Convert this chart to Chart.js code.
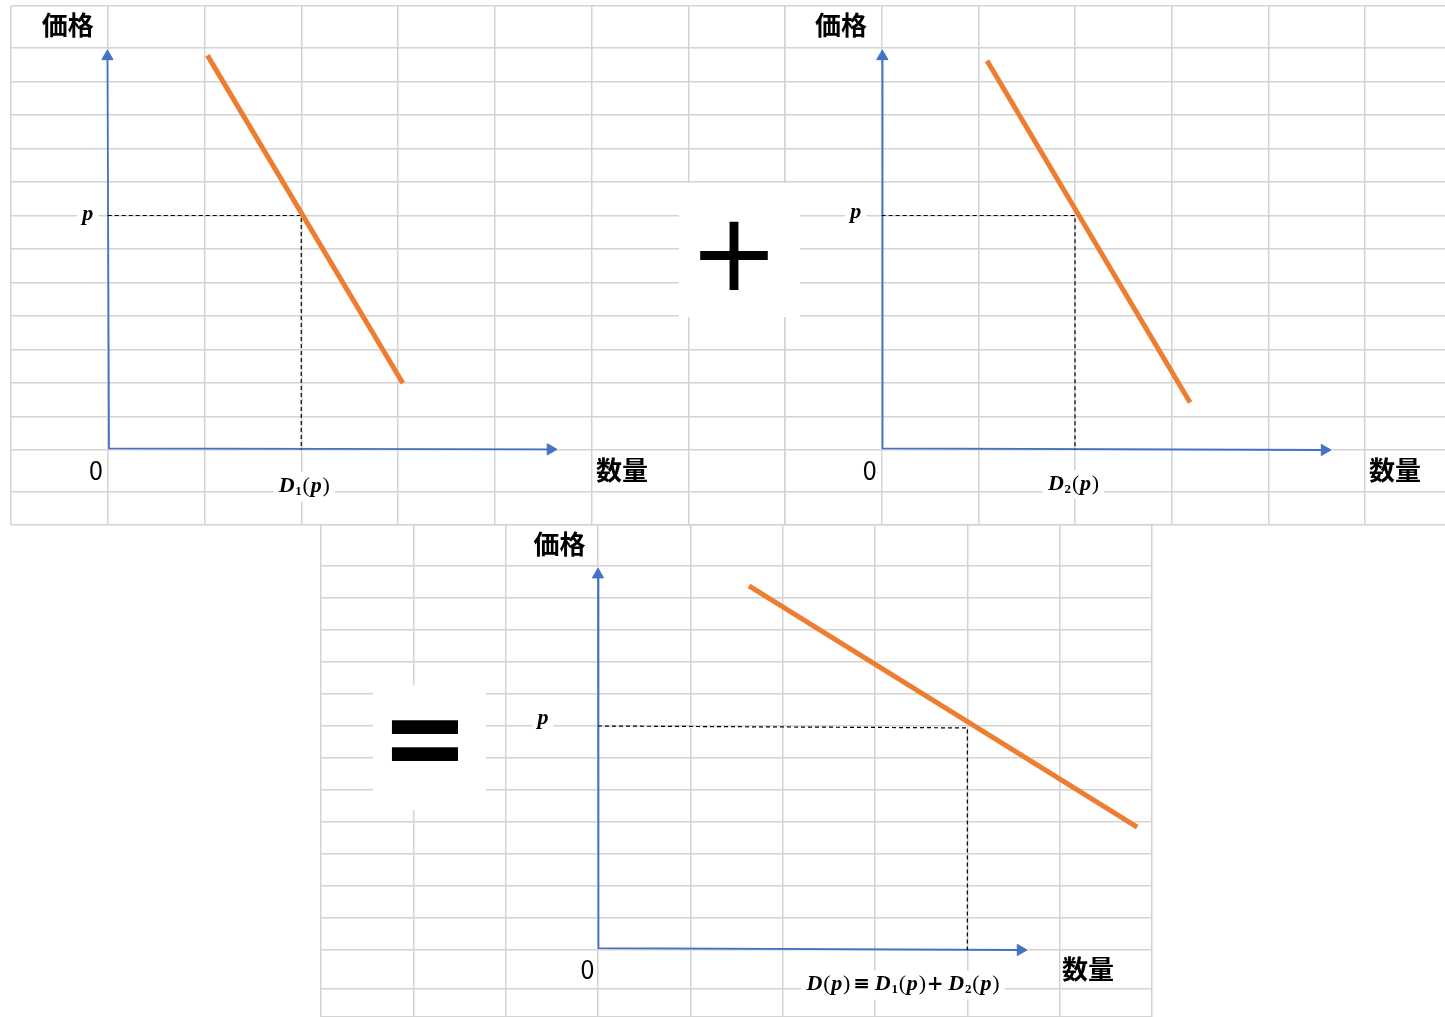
<!DOCTYPE html>
<html lang="ja">
<head>
<meta charset="utf-8">
<title>需要の水平和</title>
<script src="https://cdn.jsdelivr.net/npm/chart.js@4.4.1/dist/chart.umd.min.js"></script>
<style>
  html, body { margin: 0; padding: 0; background: #fff; overflow: hidden; }
  body { width: 1445px; height: 1017px; position: relative; }
  canvas { position: absolute; }
  .sign { position: absolute; background: #fff; z-index: 2; }
  .sign span { position: absolute; transform: translate(-50%, -50%); line-height: 1; font-family: "DejaVu Sans"; color: #000; }
</style>
</head>
<body>
<canvas id="chartD1" width="778" height="523" style="left:9px;top:4px"></canvas>
<canvas id="chartD2" width="664" height="523" style="left:783px;top:4px"></canvas>
<canvas id="chartD" width="835" height="496" style="left:319px;top:523px"></canvas>
<div class="sign" style="left:679px;top:183px;width:121px;height:134px"><span style="left:55px;top:70px;font-size:108px">+</span></div>
<div class="sign" style="left:373px;top:685px;width:113px;height:125px"><span style="left:52px;top:52px;font-size:96px;font-weight:bold;transform:translate(-50%,-50%) scale(1.1,1.25)">=</span></div>
<script>
// values are in spreadsheet cells: 1 = one column (quantity) / one row (price)
const priceP = 7;
const d1AtP = 2;
const d2AtP = 2;
const dAtP = 4;

// demand lines (two ends each)
const d1Qty = [1.03, 3.05];
const d1Price = [11.78, 1.99];
const d2Qty = [1.09, 3.19];
const d2Price = [11.62, 1.42];
const dQty = [1.635, 5.84];
const dPrice = [11.375, 3.84];

// axes: top arrow, origin, right arrow
const axis1Qty = [-0.003, 0.013, 4.576];
const axis1Price = [11.75, 0.05, 0.02];
const axis2Qty = [0.007, 0.009, 4.581];
const axis2Price = [11.75, 0.05, 0.0];
const axis3Qty = [0.0, 0.005, 4.576];
const axis3Price = [11.73, 0.06, 0.0];

// spreadsheet cell lines
const colsTopLeft = [-1, 0, 1, 2, 3, 4, 5, 6, 7];
const colsTopRight = [-1, 0, 1, 2, 3, 4, 5];
const rowsTop = [-2.239, -1.254, 0, 1, 2, 3, 4, 5, 6, 7, 8, 9, 10, 11, 12, 13.254];
const colsBottom = [-3, -2, -1, 0, 1, 2, 3, 4, 5, 6];
const rowsBottom = [-2.094, -1.219, 0, 1, 2, 3, 4, 5, 6, 7, 8, 9, 10, 11, 12, 13.281];

const ORANGE = "#ED7D31";
const BLUE = "#4472C4";

const textFonts = {
  kanji: 'bold 26px "Noto Sans CJK JP"',
  zero: '25px "Noto Sans CJK JP"',
  it: 'italic bold 22px "Liberation Serif"',
  up: '22px "Liberation Serif"',
  sub: 'bold 13px "Liberation Serif"',
  op: 'bold 20px "DejaVu Serif"',
};

function gridScale(min, max, lines) {
  return {
    type: "linear",
    min: min,
    max: max,
    afterBuildTicks: (scale) => {
      scale.ticks = lines.map((v) => ({ value: v }));
    },
    ticks: { display: false },
    grid: { color: "#d3d3d3", lineWidth: 1.5, drawTicks: false },
    border: { display: false },
  };
}

function points(q, p) {
  return q.map((v, i) => ({ x: v, y: p[i] }));
}

function labelPlugin(items) {
  return {
    id: "panelText",
    afterDraw(chart) {
      const ctx = chart.ctx;
      const xs = chart.scales.x;
      const ys = chart.scales.y;
      ctx.save();
      ctx.textBaseline = "alphabetic";
      ctx.textAlign = "left";
      items.forEach((item) => {
        const gap = item.runs.length > 1 ? 0.8 : 0;
        const widths = item.runs.map(([t, f]) => {
          ctx.font = textFonts[f];
          return ctx.measureText(t).width;
        });
        const total = widths.reduce((a, b) => a + b, 0) + gap * (item.runs.length - 1);
        const cx = xs.getPixelForValue(item.at[0]) + item.dx;
        const base = ys.getPixelForValue(item.at[1]) + item.dy;
        let left = cx - total / 2;
        if (item.box) {
          ctx.fillStyle = "#fff";
          ctx.fillRect(left - 5, base - 20, total + 10, 29);
        }
        ctx.fillStyle = "#000";
        item.runs.forEach(([t, f], i) => {
          ctx.font = textFonts[f];
          ctx.fillText(t, left, base + (f === "sub" ? 3 : 0));
          left += widths[i] + gap;
        });
      });
      ctx.restore();
    },
  };
}

function panel(id, demand, guide, axis, xScale, yScale, labels) {
  return new Chart(document.getElementById(id), {
    type: "scatter",
    data: {
      datasets: [
        {
          data: demand,
          showLine: true,
          borderColor: ORANGE,
          borderWidth: 5,
          borderCapStyle: "butt",
          pointRadius: 0,
        },
        {
          data: guide,
          showLine: true,
          borderColor: "#000",
          borderWidth: 1.2,
          borderDash: [4, 3],
          pointRadius: 0,
        },
        {
          data: axis,
          showLine: true,
          borderColor: BLUE,
          borderWidth: 1.8,
          pointStyle: "triangle",
          pointRadius: [6.5, 0, 6.5],
          pointRotation: [0, 0, 90],
          pointBackgroundColor: BLUE,
          pointBorderColor: BLUE,
          pointBorderWidth: 1,
        },
      ],
    },
    options: {
      responsive: false,
      animation: false,
      events: [],
      layout: { padding: 2, autoPadding: false },
      plugins: {
        legend: { display: false },
        tooltip: { enabled: false },
      },
      scales: { x: xScale, y: yScale },
    },
    plugins: [labelPlugin(labels)],
  });
}

const mathD1 = [["D", "it"], ["1", "sub"], ["(", "up"], ["p", "it"], [")", "up"]];
const mathD2 = [["D", "it"], ["2", "sub"], ["(", "up"], ["p", "it"], [")", "up"]];
const mathD = [["D", "it"], ["(", "up"], ["p", "it"], [")", "up"], ["\u200A≡\u2009", "op"]]
  .concat(mathD1, [["+\u2009", "op"]], mathD2);

panel(
  "chartD1",
  points(d1Qty, d1Price),
  points([0, d1AtP, d1AtP], [priceP, priceP, 0]),
  points(axis1Qty, axis1Price),
  gridScale(-1, 7, colsTopLeft),
  gridScale(-2.239, 13.254, rowsTop),
  [
    { runs: [["価格", "kanji"]], at: [0, axis1Price[0]], dx: -40, dy: -21 },
    { runs: [["0", "zero"]], at: [0, 0], dx: -11.75, dy: 30 },
    { runs: [["数量", "kanji"]], at: [axis1Qty[2], 0], dx: 71.5, dy: 30.5 },
    { runs: [["p", "it"]], at: [0, priceP], dx: -20, dy: 4.5, box: true },
    { runs: mathD1, at: [d1AtP, 0], dx: 3, dy: 42.5, box: true },
  ]
);

panel(
  "chartD2",
  points(d2Qty, d2Price),
  points([0, d2AtP, d2AtP], [priceP, priceP, 0]),
  points(axis2Qty, axis2Price),
  gridScale(-1, 5.827, colsTopRight),
  gridScale(-2.239, 13.254, rowsTop),
  [
    { runs: [["価格", "kanji"]], at: [0, axis2Price[0]], dx: -40.7, dy: -21 },
    { runs: [["0", "zero"]], at: [0, 0], dx: -12, dy: 30 },
    { runs: [["数量", "kanji"]], at: [axis2Qty[2], 0], dx: 70.5, dy: 30.5 },
    { runs: [["p", "it"]], at: [0, priceP], dx: -26, dy: 2.5, box: true },
    { runs: mathD2, at: [d2AtP, 0], dx: -1.5, dy: 40, box: true },
  ]
);

panel(
  "chartD",
  points(dQty, dPrice),
  points([0, dAtP, dAtP], [priceP, 6.94, 0]),
  points(axis3Qty, axis3Price),
  gridScale(-3, 6, colsBottom),
  gridScale(-2.094, 13.281, rowsBottom),
  [
    { runs: [["価格", "kanji"]], at: [0, axis3Price[0]], dx: -38.5, dy: -21 },
    { runs: [["0", "zero"]], at: [0, 0], dx: -10.5, dy: 29 },
    { runs: [["数量", "kanji"]], at: [axis3Qty[2], 0], dx: 67.5, dy: 29 },
    { runs: [["p", "it"]], at: [0, priceP], dx: -55, dy: -2, box: true },
    { runs: mathD, at: [dAtP, 0], dx: -64.3, dy: 40.5, box: true },
  ]
);
</script>
</body>
</html>
